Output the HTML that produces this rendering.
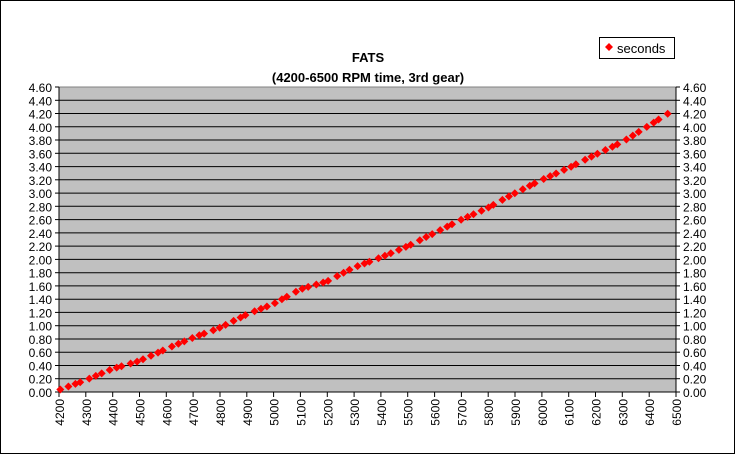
<!DOCTYPE html>
<html><head><style>body{margin:0;background:#fff}svg{display:block;font-family:"Liberation Sans",Arial,sans-serif}</style></head>
<body>
<svg id="s" width="736" height="455" xmlns="http://www.w3.org/2000/svg">
<rect x="0.5" y="0.5" width="734" height="453" fill="#fff" stroke="#000"/>
<text x="368" y="62" text-anchor="middle" font-size="13" font-weight="bold">FATS</text>
<text x="368" y="82" text-anchor="middle" font-size="13" font-weight="bold">(4200-6500 RPM time, 3rd gear)</text>
<rect x="599.5" y="37.5" width="75" height="21" fill="#fff" stroke="#000"/>
<path d="M609 43 l4 4 -4 4 -4 -4z" fill="#f00"/>
<text x="617" y="53" font-size="13">seconds</text>
<rect x="59" y="87" width="617" height="305" fill="#c0c0c0" stroke="#808080"/>
<g id="g"></g>
</svg>
<script>
var g=document.getElementById('g'),h='';
var X=function(r){return 59+(r-4200)/2300*617},Y=function(v){return 392-v/4.6*305};
for(var i=0;i<=23;i++){var y=Y(i*0.2).toFixed(1),t=(i*0.2).toFixed(2);
if(i>0&&i<23)h+='<line x1="59" x2="676" y1="'+y+'" y2="'+y+'" stroke="#000"/>';
h+='<line x1="55" x2="59" y1="'+y+'" y2="'+y+'" stroke="#000"/><line x1="676" x2="680" y1="'+y+'" y2="'+y+'" stroke="#000"/>';
h+='<text x="52" y="'+(+y+5)+'" text-anchor="end" font-size="12">'+t+'</text><text x="683" y="'+(+y+5)+'" font-size="12">'+t+'</text>';}
h+='<line x1="59" x2="59" y1="87" y2="392" stroke="#000"/><line x1="676" x2="676" y1="87" y2="392" stroke="#000"/><line x1="59" x2="676" y1="392" y2="392" stroke="#000"/>';
for(var r=4200;r<=6500;r+=100){var x=X(r).toFixed(1);h+='<line x1="'+x+'" x2="'+x+'" y1="392" y2="397" stroke="#000"/><text transform="translate('+(+x+5)+',399) rotate(-90)" text-anchor="end" font-size="12">'+r+'</text>';}
var P=[[4200,0.03],[4300,0.18],[4400,0.35],[4500,0.47],[4600,0.65],[4700,0.82],[4800,0.97],[4900,1.17],[5000,1.33],[5100,1.55],[5200,1.67],[5300,1.88],[5400,2.03],[5500,2.2],[5600,2.4],[5700,2.6],[5800,2.78],[5900,3.0],[6000,3.2],[6100,3.38],[6200,3.58],[6300,3.77],[6400,4.02],[6470,4.2]];
function f(r){for(var k=0;k<P.length-1;k++)if(r<=P[k+1][0]){var a=P[k],b=P[k+1];return a[1]+(b[1]-a[1])*(r-a[0])/(b[0]-a[0]);}return 4.2}
var r=4205,s=0;while(r<=6470){var x=X(r),y=Y(f(r));h+='<path d="M'+x.toFixed(1)+' '+(y-4).toFixed(1)+'l4 4 -4 4 -4 -4z" fill="#f00"/>';s++;r+=[22,30,26,18,34,24][s%6];}
g.innerHTML=h;
</script>
</body></html>
